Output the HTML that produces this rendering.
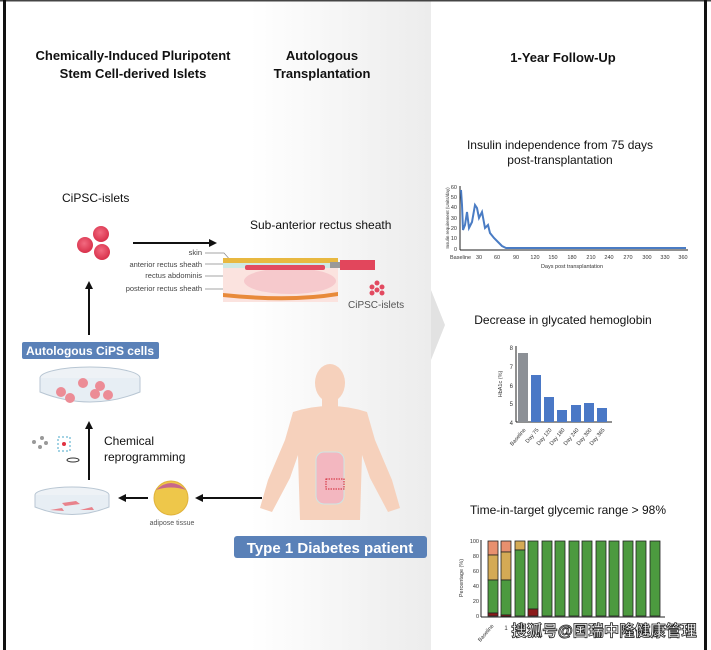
<!DOCTYPE html>
<html><head><meta charset="utf-8"><style>
html,body{margin:0;padding:0;background:#fff}
svg{display:block}
text{font-family:"Liberation Sans","Noto Sans CJK SC",sans-serif}
</style></head><body>
<svg width="711" height="650" viewBox="0 0 711 650" xmlns="http://www.w3.org/2000/svg">
<defs>
<linearGradient id="lg" x1="0" x2="1" y1="0" y2="0">
<stop offset="0" stop-color="#fff"/><stop offset="1" stop-color="#ececec"/>
</linearGradient>
<marker id="ar" markerWidth="8" markerHeight="8" refX="6" refY="4" orient="auto" markerUnits="userSpaceOnUse">
<path d="M0,0 L8,4 L0,8 z" fill="#111"/></marker>
<radialGradient id="cell" cx="0.45" cy="0.4" r="0.6"><stop offset="0" stop-color="#f26a80"/><stop offset="1" stop-color="#d8304a"/></radialGradient>
</defs>
<rect width="711" height="650" fill="#fff"/>
<rect x="250" y="0" width="181" height="650" fill="url(#lg)"/>
<rect x="0" y="0" width="711" height="1.5" fill="#444"/>
<rect x="3" y="0" width="3" height="650" fill="#111"/>
<rect x="704" y="0" width="3" height="650" fill="#111"/>
<path d="M431,290 L445,325 L431,360 Z" fill="#e2e2e2"/>

<g font-weight="bold" font-size="13" text-anchor="middle" fill="#111">
<text x="133" y="60">Chemically-Induced Pluripotent</text>
<text x="133" y="78">Stem Cell-derived Islets</text>
<text x="322" y="60">Autologous</text>
<text x="322" y="78">Transplantation</text>
<text x="563" y="62">1-Year Follow-Up</text>
</g>

<text x="62" y="202" font-size="12" fill="#111">CiPSC-islets</text>
<circle cx="101" cy="234" r="8" fill="url(#cell)"/>
<circle cx="85" cy="245" r="8" fill="url(#cell)"/>
<circle cx="102" cy="252" r="8" fill="url(#cell)"/>
<line x1="133" y1="243" x2="215" y2="243" stroke="#111" stroke-width="2" marker-end="url(#ar)"/>
<line x1="89" y1="335" x2="89" y2="283" stroke="#111" stroke-width="2" marker-end="url(#ar)"/>

<text x="250" y="229" font-size="12" fill="#111">Sub-anterior rectus sheath</text>
<g font-size="7.5" fill="#444" text-anchor="end">
<text x="202" y="255">skin</text>
<text x="202" y="267">anterior rectus sheath</text>
<text x="202" y="278">rectus abdominis</text>
<text x="202" y="291">posterior rectus sheath</text>
</g>
<g stroke="#888" stroke-width="0.7" fill="none">
<path d="M205,253 H224 L232,262"/><path d="M205,264 H232"/><path d="M205,276 H245"/><path d="M205,289 H236 L242,283"/>
</g>
<rect x="223" y="258" width="115" height="44" fill="#fbe3df"/>
<rect x="223" y="258" width="115" height="5" fill="#e8b840"/>
<rect x="223" y="263" width="115" height="5" fill="#cfe9e4"/>
<ellipse cx="290" cy="281" rx="46" ry="13" fill="#f6c9cc"/>
<rect x="245" y="265" width="80" height="5" fill="#e24a60" rx="2"/>
<path d="M223,293 Q290,300 338,292 L338,296 Q290,304 223,297 Z" fill="#e88a3a"/>
<rect x="330" y="262" width="10" height="6" fill="#999"/>
<rect x="340" y="260" width="35" height="10" fill="#e2465c"/>
<g fill="#e24a60"><circle cx="377" cy="283" r="2.5"/><circle cx="372" cy="287" r="2.5"/><circle cx="382" cy="287" r="2.5"/><circle cx="377" cy="290" r="2.5"/><circle cx="372" cy="293" r="2.5"/><circle cx="382" cy="293" r="2.5"/></g>
<text x="348" y="308" font-size="10" fill="#555">CiPSC-islets</text>

<rect x="22" y="342" width="137" height="17" rx="2" fill="#5a81b8"/>
<text x="90" y="355" font-size="12" font-weight="bold" fill="#fff" text-anchor="middle">Autologous CiPS cells</text>
<ellipse cx="90" cy="378" rx="50" ry="11" fill="#eef2f6" stroke="#b8c6d3"/>
<path d="M40,378 V392 Q90,412 140,392 V378" fill="#e7eef4" stroke="#b8c6d3"/>
<g fill="#ec8c96"><circle cx="83" cy="383" r="5"/><circle cx="100" cy="386" r="5"/><circle cx="61" cy="392" r="5"/><circle cx="95" cy="394" r="5"/><circle cx="108" cy="395" r="5"/><circle cx="70" cy="398" r="5"/></g>
<line x1="89" y1="480" x2="89" y2="423" stroke="#111" stroke-width="2" marker-end="url(#ar)"/>
<text x="104" y="445" font-size="12" fill="#111">Chemical</text>
<text x="104" y="461" font-size="12" fill="#111">reprogramming</text>
<g fill="#999"><circle cx="34" cy="442" r="2"/><circle cx="42" cy="438" r="2"/><circle cx="40" cy="447" r="2"/><circle cx="46" cy="443" r="2"/></g>
<rect x="58" y="437" width="12" height="14" fill="none" stroke="#4aa7c8" stroke-dasharray="2,2"/><circle cx="64" cy="444" r="2" fill="#e03040"/>
<ellipse cx="73" cy="460" rx="6" ry="2" fill="none" stroke="#333"/>
<ellipse cx="72" cy="495" rx="37" ry="8" fill="#eef2f6" stroke="#b8c6d3"/>
<path d="M35,495 V507 Q72,522 109,507 V495" fill="#e7eef4" stroke="#b8c6d3"/>
<path d="M62,503 l14,-2 l4,3 l-15,2z M50,510 l12,-2 l2,3z M80,510 l12,-3 l2,3z" fill="#e8838c"/>
<line x1="148" y1="498" x2="120" y2="498" stroke="#111" stroke-width="2" marker-end="url(#ar)"/>
<circle cx="171" cy="498" r="17" fill="#eec74a" stroke="#e0b23a"/>
<path d="M156,490 Q171,476 186,490 Q171,485 156,490z" fill="#c8688a"/>
<text x="172" y="525" font-size="7" fill="#555" text-anchor="middle">adipose tissue</text>
<line x1="262" y1="498" x2="197" y2="498" stroke="#111" stroke-width="2" marker-end="url(#ar)"/>

<g fill="#f6d1bc">
<ellipse cx="330" cy="383" rx="15" ry="19"/>
<rect x="322" y="398" width="16" height="14"/>
<path d="M293,412 Q330,400 367,412 L375,440 L392,480 L400,508 L388,512 L370,478 L362,455 L360,520 L300,520 L298,455 L290,478 L272,512 L260,508 L268,480 L285,440 Z"/>
</g>
<rect x="316" y="452" width="28" height="52" rx="8" fill="#f3b7c0" stroke="#cde6e4"/>
<rect x="326" y="479" width="18" height="10" fill="none" stroke="#d02030" stroke-dasharray="1.5,1"/>
<rect x="234" y="536" width="193" height="22" rx="3" fill="#5a81b8"/>
<text x="330" y="553" font-size="15" font-weight="bold" fill="#fff" text-anchor="middle">Type 1 Diabetes patient</text>

<text x="560" y="149" font-size="12" fill="#111" text-anchor="middle">Insulin independence from 75 days</text>
<text x="560" y="164" font-size="12" fill="#111" text-anchor="middle">post-transplantation</text>
<g stroke="#222" stroke-width="1">
<line x1="460" y1="186" x2="460" y2="250"/><line x1="460" y1="250" x2="688" y2="250"/>
</g>
<g font-size="5.5" fill="#333">
<text x="457" y="189" text-anchor="end">60</text><text x="457" y="199" text-anchor="end">50</text><text x="457" y="209" text-anchor="end">40</text><text x="457" y="220" text-anchor="end">30</text><text x="457" y="230" text-anchor="end">20</text><text x="457" y="240" text-anchor="end">10</text><text x="457" y="251" text-anchor="end">0</text>
<text x="450" y="259">Baseline</text><text x="479" y="259" text-anchor="middle">30</text><text x="497" y="259" text-anchor="middle">60</text><text x="516" y="259" text-anchor="middle">90</text><text x="535" y="259" text-anchor="middle">120</text><text x="553" y="259" text-anchor="middle">150</text><text x="572" y="259" text-anchor="middle">180</text><text x="591" y="259" text-anchor="middle">210</text><text x="609" y="259" text-anchor="middle">240</text><text x="628" y="259" text-anchor="middle">270</text><text x="647" y="259" text-anchor="middle">300</text><text x="665" y="259" text-anchor="middle">330</text><text x="683" y="259" text-anchor="middle">360</text>
<text x="572" y="268" text-anchor="middle">Days post transplantation</text>
<text transform="translate(449,218) rotate(-90)" text-anchor="middle" font-size="4.5">Insulin requirement (Units/day)</text>
</g>
<polyline points="461,190 462,205 463,230 465,225 467,212 469,228 472,222 475,205 477,208 479,218 482,212 485,228 488,225 490,233 494,238 498,242 502,246 506,248 509,248 686,248" fill="none" stroke="#4a7cc4" stroke-width="2"/>

<text x="563" y="324" font-size="12" fill="#111" text-anchor="middle">Decrease in glycated hemoglobin</text>
<g stroke="#222" stroke-width="1"><line x1="516" y1="346" x2="516" y2="422"/><line x1="516" y1="422" x2="612" y2="422"/></g>
<g font-size="6" fill="#333" text-anchor="end">
<text x="513" y="350">8</text><text x="513" y="369">7</text><text x="513" y="388">6</text><text x="513" y="406">5</text><text x="513" y="425">4</text>
<text transform="translate(502,384) rotate(-90)" text-anchor="middle" font-size="5.5">HbA1c (%)</text>
</g>
<rect x="518" y="353" width="10" height="69" fill="#8c9096"/>
<g fill="#4a78c6">
<rect x="531" y="375" width="10" height="47"/><rect x="544" y="397" width="10" height="25"/><rect x="557" y="410" width="10" height="12"/><rect x="571" y="405" width="10" height="17"/><rect x="584" y="403" width="10" height="19"/><rect x="597" y="408" width="10" height="14"/>
</g>
<g font-size="5.5" fill="#333" text-anchor="end">
<text transform="translate(526,430) rotate(-50)">Baseline</text><text transform="translate(539,430) rotate(-50)">Day 75</text><text transform="translate(552,430) rotate(-50)">Day 120</text><text transform="translate(565,430) rotate(-50)">Day 180</text><text transform="translate(579,430) rotate(-50)">Day 240</text><text transform="translate(592,430) rotate(-50)">Day 300</text><text transform="translate(605,430) rotate(-50)">Day 365</text>
</g>

<text x="568" y="514" font-size="12" fill="#111" text-anchor="middle">Time-in-target glycemic range &gt; 98%</text>
<g stroke="#222" stroke-width="1"><line x1="481" y1="540" x2="481" y2="617"/><line x1="481" y1="617" x2="665" y2="617"/></g>
<g font-size="5.5" fill="#333" text-anchor="end">
<text x="479" y="543">100</text><text x="479" y="558">80</text><text x="479" y="573">60</text><text x="479" y="588">40</text><text x="479" y="603">20</text><text x="479" y="618">0</text>
<text transform="translate(463,578) rotate(-90)" text-anchor="middle" font-size="5.5">Percentage (%)</text>
</g>
<g stroke="#222" stroke-width="0.8">
<rect x="488" y="541" width="10" height="14" fill="#e8906e"/><rect x="488" y="555" width="10" height="25" fill="#d4aa55"/><rect x="488" y="580" width="10" height="33" fill="#4c9a3f"/><rect x="488" y="613" width="10" height="3" fill="#8b1a1a"/>
<rect x="501" y="541" width="10" height="11" fill="#e8906e"/><rect x="501" y="552" width="10" height="28" fill="#d4aa55"/><rect x="501" y="580" width="10" height="35" fill="#4c9a3f"/><rect x="501" y="615" width="10" height="1.5" fill="#8b1a1a"/>
<rect x="515" y="541" width="10" height="9" fill="#d4aa55"/><rect x="515" y="550" width="10" height="66" fill="#4c9a3f"/>
<rect x="528" y="541" width="10" height="68" fill="#4c9a3f"/><rect x="528" y="609" width="10" height="7" fill="#8b1a1a"/>
<rect x="542" y="541" width="10" height="75" fill="#4c9a3f"/><rect x="555" y="541" width="10" height="75" fill="#4c9a3f"/><rect x="569" y="541" width="10" height="75" fill="#4c9a3f"/><rect x="582" y="541" width="10" height="75" fill="#4c9a3f"/><rect x="596" y="541" width="10" height="75" fill="#4c9a3f"/><rect x="609" y="541" width="10" height="75" fill="#4c9a3f"/><rect x="623" y="541" width="10" height="75" fill="#4c9a3f"/><rect x="636" y="541" width="10" height="75" fill="#4c9a3f"/><rect x="650" y="541" width="10" height="75" fill="#4c9a3f"/>
</g>
<text transform="translate(494,626) rotate(-50)" font-size="5.5" fill="#333" text-anchor="end">Baseline</text>
<text x="506" y="630" font-size="6" fill="#333" text-anchor="middle">1</text>
<text x="604" y="636" font-size="15.5" font-weight="bold" fill="#fff" stroke="#222" stroke-width="0.8" text-anchor="middle">搜狐号@国瑞中隆健康管理</text>
</svg>
</body></html>
